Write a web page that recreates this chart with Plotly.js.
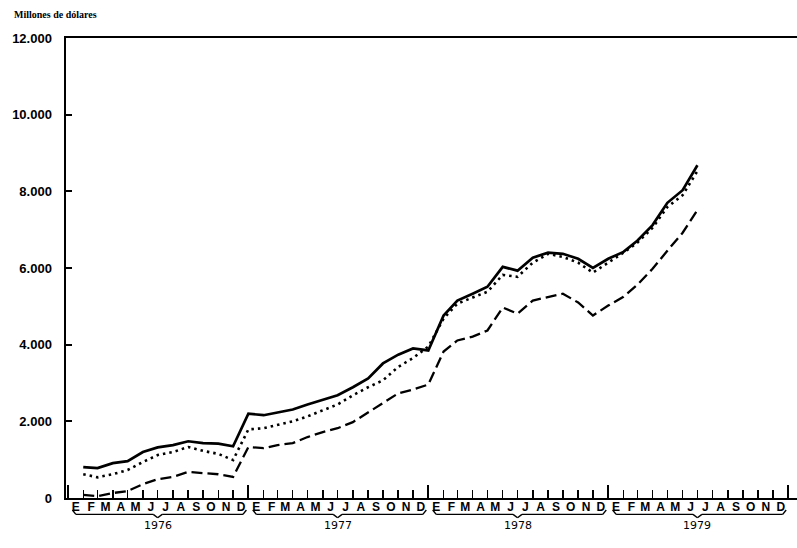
<!DOCTYPE html>
<html>
<head>
<meta charset="utf-8">
<script src="https://cdn.plot.ly/plotly-3.0.1.min.js"></script>
<style>html,body{margin:0;padding:0;background:#fff;}#chart{width:797px;height:548px;}</style>
</head>
<body>
<div id="chart"></div>
<script>
// ---- DATA ----
const monthLetters = ['E','F','M','A','M','J','J','A','S','O','N','D'];
const years = ['1976','1977','1978','1979'];
const yTickValues = [0, 2000, 4000, 6000, 8000, 10000, 12000];
const yTickLabels = ['0', '2.000', '4.000', '6.000', '8.000', '10.000', '12.000'];
const periods = [
  '1976-02','1976-03','1976-04','1976-05','1976-06','1976-07','1976-08','1976-09','1976-10','1976-11','1976-12',
  '1977-01','1977-02','1977-03','1977-04','1977-05','1977-06','1977-07','1977-08','1977-09','1977-10','1977-11','1977-12',
  '1978-01','1978-02','1978-03','1978-04','1978-05','1978-06','1978-07','1978-08','1978-09','1978-10','1978-11','1978-12',
  '1979-01','1979-02','1979-03','1979-04','1979-05','1979-06','1979-07'
];
const serieSolida = [806,780,910,960,1200,1320,1380,1480,1430,1420,1350,
  2200,2160,2240,2310,2440,2570,2680,2890,3120,3510,3740,3900,
  3850,4760,5150,5330,5510,6030,5930,6270,6400,6370,6240,6000,
  6240,6420,6710,7120,7700,8030,8680];
const seriePunteada = [620,540,620,730,940,1120,1200,1330,1230,1150,990,
  1790,1820,1900,2000,2130,2290,2440,2680,2890,3070,3420,3650,
  3950,4680,5070,5230,5380,5820,5770,6140,6370,6290,6140,5880,
  6140,6400,6660,7050,7590,7900,8530];
const serieDiscontinua = [80,50,130,180,360,490,550,680,650,620,550,
  1330,1300,1380,1430,1590,1720,1820,1980,2240,2470,2730,2830,
  2960,3820,4110,4210,4370,4970,4810,5150,5250,5330,5100,4760,
  5020,5250,5560,5980,6450,6920,7510];

// ---- BUILD ----
const xDates = periods.map(p => p + '-01');
const labelPos = [], labelText = [];
years.forEach(y => monthLetters.forEach((m, k) => {
  labelPos.push(y + '-' + String(k + 1).padStart(2, '0') + '-17');
  labelText.push(m);
}));

const baseLine = {mode: 'lines', hoverinfo: 'skip', showlegend: false};
const traces = [
  Object.assign({}, baseLine, {x: xDates, y: serieSolida, name: 'A', line: {color: '#000', width: 2.7}}),
  Object.assign({}, baseLine, {x: xDates, y: seriePunteada, name: 'B', line: {color: '#000', width: 2.6, dash: '2.5px,4px'}}),
  Object.assign({}, baseLine, {x: xDates, y: serieDiscontinua, name: 'C', line: {color: '#000', width: 2.3, dash: '11px,5px'}}),
  {x: labelPos, y: labelPos.map(() => null), xaxis: 'x2', mode: 'none', hoverinfo: 'skip', showlegend: false}
];

const xRange = ['1975-12-28', '1980-01-19'];
const r0 = Date.parse(xRange[0]), r1 = Date.parse(xRange[1]);
const px = d => (Date.parse(d) - r0) / (r1 - r0);   // date -> paper fraction (same scale as the x axis)
const shapes = [];
const annotations = [];
const yHook = -0.026, yBar = -0.0355, yTip = -0.043;
years.forEach(y => {
  const ln = (a, ya, b, yb) => shapes.push({type: 'line', xref: 'paper', yref: 'paper',
    x0: px(a), y0: ya, x1: px(b), y1: yb, line: {color: '#000', width: 1.4}});
  ln(y + '-01-10', yHook, y + '-01-17', yBar);
  ln(y + '-01-17', yBar, y + '-06-22', yBar);
  ln(y + '-06-22', yBar, y + '-07-01', yTip);
  ln(y + '-07-01', yTip, y + '-07-10', yBar);
  ln(y + '-07-10', yBar, y + '-12-21', yBar);
  ln(y + '-12-21', yBar, y + '-12-28', yHook);
  annotations.push({text: y, x: y + '-07-01', y: -0.059, xref: 'x', yref: 'paper', showarrow: false,
    xanchor: 'center', yanchor: 'middle', font: {family: 'DejaVu Sans', size: 11, color: '#000'}});
});
annotations.push({text: '<b>Millones de dólares</b>', xref: 'paper', yref: 'paper', x: -0.074, y: 1.052,
  xanchor: 'left', yanchor: 'middle', showarrow: false, font: {family: 'Liberation Serif', size: 10, color: '#000'}});

const layout = {
  width: 797, height: 548,
  margin: {l: 66, r: 0, t: 38, b: 50},
  paper_bgcolor: '#fff', plot_bgcolor: '#fff',
  showlegend: false,
  xaxis: {
    type: 'date', range: xRange, showgrid: false, zeroline: false,
    showline: true, linewidth: 2, linecolor: '#000', mirror: true,
    tickmode: 'linear', tick0: '1976-01-01', dtick: 'M12', ticks: 'inside', ticklen: 13, tickwidth: 2, tickcolor: '#000',
    showticklabels: false,
    minor: {dtick: 'M1', tick0: '1976-01-01', ticks: 'inside', ticklen: 8, tickwidth: 1.5, tickcolor: '#000', showgrid: false}
  },
  xaxis2: {
    type: 'date', range: xRange, overlaying: 'x', anchor: 'y', side: 'bottom',
    showgrid: false, zeroline: false, showline: false, ticks: '',
    tickmode: 'array', tickvals: labelPos, ticktext: labelText, ticklabelstandoff: 0,
    tickfont: {family: 'Liberation Sans', size: 12, color: '#000', weight: 'bold'}
  },
  yaxis: {
    range: [0, 12000], showgrid: false, zeroline: false,
    showline: true, linewidth: 2.5, linecolor: '#000',
    tickmode: 'array', tickvals: yTickValues, ticktext: yTickLabels,
    ticks: 'inside', ticklen: 6, tickwidth: 2, tickcolor: '#000', ticklabelstandoff: 9,
    tickfont: {family: 'Liberation Sans', size: 13, color: '#000', weight: 'bold'}
  },
  shapes: shapes,
  annotations: annotations
};

Plotly.newPlot('chart', traces, layout, {displayModeBar: false, staticPlot: true});
</script>
</body>
</html>
